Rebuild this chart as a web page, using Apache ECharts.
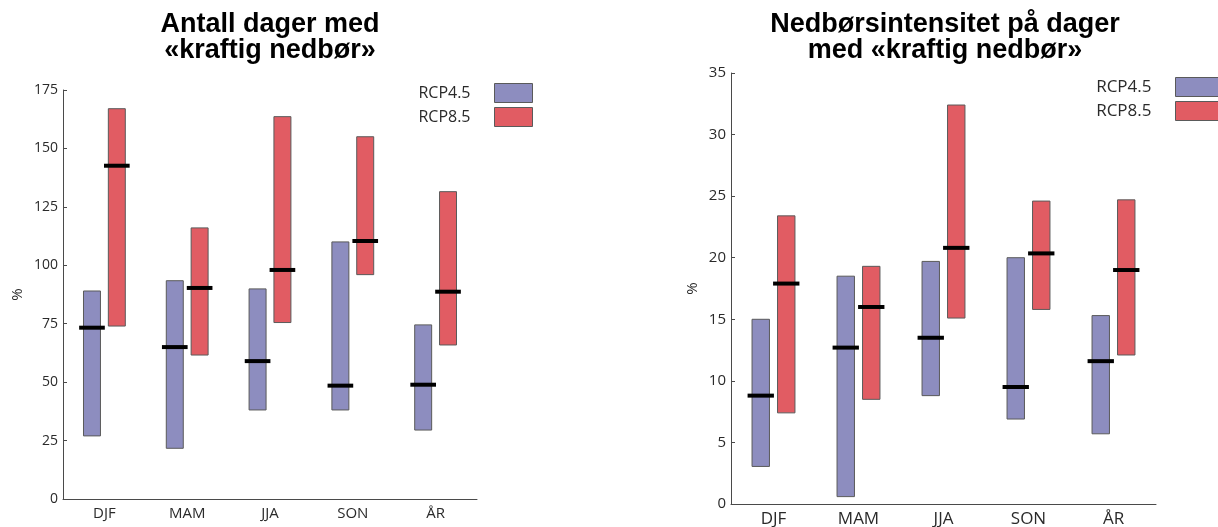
<!DOCTYPE html>
<html>
<head>
<meta charset="utf-8">
<script src="https://cdn.jsdelivr.net/npm/echarts@6/dist/echarts.min.js"></script>
<style>
  html, body { margin: 0; padding: 0; background: #fff; }
  #chart { width: 1218px; height: 527px; }
</style>
</head>
<body>
<div id="chart"></div>
<script>
const categories = ['DJF', 'MAM', 'JJA', 'SON', 'ÅR']
const seriesNames = ['RCP4.5', 'RCP8.5']

// Antall dager med «kraftig nedbør» (%)
const daysRcp45Low = [27, 21.7, 38.1, 38.1, 29.5]
const daysRcp45High = [89, 93.4, 89.9, 110, 74.5]
const daysRcp45Median = [73.3, 65, 59, 48.5, 48.9]
const daysRcp85Low = [74, 61.6, 75.5, 96, 65.9]
const daysRcp85High = [167, 116, 163.6, 155, 131.5]
const daysRcp85Median = [142.6, 90.3, 98, 110.4, 88.7]

// Nedbørsintensitet på dager med «kraftig nedbør» (%)
const intRcp45Low = [3.05, 0.6, 8.8, 6.9, 5.7]
const intRcp45High = [15.0, 18.5, 19.7, 20.0, 15.3]
const intRcp45Median = [8.8, 12.7, 13.5, 9.5, 11.6]
const intRcp85Low = [7.4, 8.5, 15.1, 15.8, 12.1]
const intRcp85High = [23.4, 19.3, 32.4, 24.6, 24.7]
const intRcp85Median = [17.9, 16.0, 20.8, 20.35, 19.0]

const leftTicks = [0, 25, 50, 75, 100, 125, 150, 175]
const rightTicks = [0, 5, 10, 15, 20, 25, 30, 35]

const colors = ['#8d8dbf', '#e15c63']
const axisColor = '#4a4a4a'
const textColor = '#2a2a2a'
const fontFamily = '"Open Sans", sans-serif'
const titleFont = '"Liberation Sans", Arial, sans-serif'

const rows = (low, high, med) => low.map((v, i) => [i, v, high[i], med[i]])

// floating bar + median line, placed relative to the category band
const makeRender = (shift) => (params, api) => {
  const idx = api.value(0)
  const band = api.size([1, 0])[0]
  const lo = api.coord([idx, api.value(1)])
  const hi = api.coord([idx, api.value(2)])
  const md = api.coord([idx, api.value(3)])
  const cx = lo[0] + shift * band
  const barW = band * 0.205
  const medW = band * 0.31
  return {
    type: 'group',
    children: [
      {
        type: 'rect',
        shape: { x: cx - barW / 2, y: hi[1], width: barW, height: lo[1] - hi[1] },
        style: { fill: api.visual('color'), stroke: '#5a5a5a', lineWidth: 1 },
      },
      {
        type: 'rect',
        shape: { x: cx - medW / 2, y: md[1] - 2, width: medW, height: 4 },
        style: { fill: '#000' },
      },
    ],
  }
}

const makeSeries = (name, gridIdx, data, shift, color) => ({
  name,
  type: 'custom',
  xAxisIndex: gridIdx,
  yAxisIndex: gridIdx,
  itemStyle: { color },
  renderItem: makeRender(shift),
  encode: { x: 0, y: [1, 2, 3] },
  data,
})

const xAxisBase = (gridIndex, fontSize, margin) => ({
  type: 'category',
  gridIndex,
  data: categories,
  boundaryGap: true,
  axisLine: { lineStyle: { color: axisColor, width: 1 } },
  axisTick: { inside: true, alignWithLabel: true, length: 5, lineStyle: { color: axisColor } },
  axisLabel: { color: textColor, fontSize, margin, fontFamily },
  splitLine: { show: false },
})

const yAxisBase = (gridIndex, max, interval, fontSize, nameGap) => ({
  type: 'value',
  gridIndex,
  min: 0,
  max,
  interval,
  name: '%',
  nameLocation: 'middle',
  nameRotate: 90,
  nameGap,
  nameTextStyle: { color: textColor, fontSize: 15, fontFamily },
  axisLine: { show: true, lineStyle: { color: axisColor, width: 1 } },
  axisTick: { show: true, inside: true, length: 4, lineStyle: { color: axisColor } },
  axisLabel: { color: textColor, fontSize, margin: 5, fontFamily },
  splitLine: { show: false },
})

const legendBase = (right, top, fontSize, itemGap) => ({
  orient: 'vertical',
  right,
  top,
  padding: 0,
  align: 'right',
  icon: 'rect',
  itemWidth: 38,
  itemHeight: 19,
  itemGap,
  selectedMode: false,
  itemStyle: { borderColor: '#5a5a5a', borderWidth: 1 },
  textStyle: { color: textColor, fontSize, fontFamily, padding: [0, 19, 0, 0] },
  data: seriesNames,
})

const chart = echarts.init(document.getElementById('chart'))

const option = {
  backgroundColor: '#fff',
  animation: false,
  title: [
    {
      text: 'Antall dager med\n«kraftig nedbør»',
      left: 265,
      top: 7,
      textAlign: 'center',
      textStyle: { fontFamily: titleFont, fontWeight: 'bold', fontSize: 27, lineHeight: 26, color: '#000' },
    },
    {
      text: 'Nedbørsintensitet på dager\nmed «kraftig nedbør»',
      left: 940,
      top: 7,
      textAlign: 'center',
      textStyle: { fontFamily: titleFont, fontWeight: 'bold', fontSize: 27, lineHeight: 26, color: '#000' },
    },
  ],
  legend: [
    legendBase(685, 83, 16, 4),
    { ...legendBase(-4, 77, 17, 4), itemWidth: 46 },
  ],
  grid: [
    { left: 63, right: 741, top: 90, bottom: 28, outerBoundsMode: 'none' },
    { left: 731, right: 62, top: 73, bottom: 23, outerBoundsMode: 'none' },
  ],
  xAxis: [xAxisBase(0, 15, 7), xAxisBase(1, 17, 7)],
  yAxis: [
    yAxisBase(0, leftTicks[leftTicks.length - 1], 25, 14, 38),
    yAxisBase(1, rightTicks[rightTicks.length - 1], 5, 15, 31),
  ],
  series: [
    makeSeries('RCP4.5', 0, rows(daysRcp45Low, daysRcp45High, daysRcp45Median), -0.15, colors[0]),
    makeSeries('RCP8.5', 0, rows(daysRcp85Low, daysRcp85High, daysRcp85Median), 0.15, colors[1]),
    makeSeries('RCP4.5', 1, rows(intRcp45Low, intRcp45High, intRcp45Median), -0.15, colors[0]),
    makeSeries('RCP8.5', 1, rows(intRcp85Low, intRcp85High, intRcp85Median), 0.15, colors[1]),
  ],
}

chart.setOption(option)
</script>
</body>
</html>
